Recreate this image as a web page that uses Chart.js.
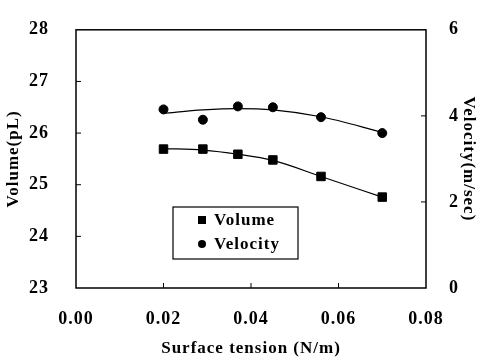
<!DOCTYPE html>
<html>
<head>
<meta charset="utf-8">
<script src="https://cdn.jsdelivr.net/npm/chart.js@4.4.1/dist/chart.umd.min.js"></script>
<style>
  html, body { margin: 0; padding: 0; background: #fff; }
  #wrap { width: 481px; height: 362px; }
</style>
</head>
<body>
<div id="wrap"><canvas id="chart" width="481" height="362"></canvas></div>
<script>
const tension = [0.020, 0.029, 0.037, 0.045, 0.056, 0.070];
const volume = [25.69, 25.69, 25.59, 25.48, 25.16, 24.76];
const velocity = [4.15, 3.91, 4.22, 4.20, 3.97, 3.60];
// trend lines
const volumeFit = [25.70, 25.67, 25.59, 25.47, 25.16, 24.76];
const velocityFit = [4.06, 4.14, 4.17, 4.14, 3.98, 3.62];

const xTicks = [0.00, 0.02, 0.04, 0.06, 0.08];
const volumeTicks = [23, 24, 25, 26, 27, 28];
const velocityTicks = [0, 2, 4, 6];

const serif = "'Liberation Serif', 'Times New Roman', serif";

function pairs(xs, ys) {
  return xs.map((x, i) => ({ x: x, y: ys[i] }));
}

// draws the box, the inward ticks and the legend
const framePlugin = {
  id: "frame",
  beforeLayout(chart) {
    chart.ctx.letterSpacing = "1px";
  },
  beforeDraw(chart) {
    chart.ctx.letterSpacing = "1px";
  },
  afterDraw(chart) {
    const ctx = chart.ctx;
    const ca = chart.chartArea;
    const sx = chart.scales.x;
    const yl = chart.scales.yVol;
    const yr = chart.scales.yVel;
    ctx.save();
    ctx.strokeStyle = "#000";
    ctx.lineWidth = 1.5;
    ctx.strokeRect(ca.left, ca.top, ca.right - ca.left, ca.bottom - ca.top);
    ctx.lineWidth = 1;
    ctx.beginPath();
    xTicks.slice(1, -1).forEach((v) => {
      const px = sx.getPixelForValue(v);
      ctx.moveTo(px, ca.bottom);
      ctx.lineTo(px, ca.bottom - 5);
    });
    volumeTicks.slice(1, -1).forEach((v) => {
      const py = yl.getPixelForValue(v);
      ctx.moveTo(ca.left, py);
      ctx.lineTo(ca.left + 5, py);
    });
    velocityTicks.slice(1, -1).forEach((v) => {
      const py = yr.getPixelForValue(v);
      ctx.moveTo(ca.right, py);
      ctx.lineTo(ca.right - 5, py);
    });
    ctx.stroke();

    // legend
    const lx = 173, ly = 207, lw = 125, lh = 52;
    ctx.lineWidth = 1.2;
    ctx.strokeRect(lx, ly, lw, lh);
    ctx.fillStyle = "#000";
    ctx.fillRect(198, 216, 8, 8);
    ctx.beginPath();
    ctx.arc(202, 244, 4, 0, Math.PI * 2);
    ctx.fill();
    ctx.font = "bold 17px " + serif;
    ctx.letterSpacing = "1px";
    ctx.textBaseline = "middle";
    ctx.textAlign = "left";
    ctx.fillText("Volume", 214, 221);
    ctx.fillText("Velocity", 214, 245);
    ctx.restore();
  },
};

new Chart(document.getElementById("chart"), {
  type: "scatter",
  data: {
    datasets: [
      {
        label: "Volume",
        data: pairs(tension, volume),
        yAxisID: "yVol",
        pointStyle: "rect",
        pointRadius: 6,
        backgroundColor: "#000",
        borderColor: "#000",
        showLine: false,
      },
      {
        label: "Velocity",
        data: pairs(tension, velocity),
        yAxisID: "yVel",
        pointStyle: "circle",
        pointRadius: 4.5,
        backgroundColor: "#000",
        borderColor: "#000",
        showLine: false,
      },
      {
        label: "Volume fit",
        data: pairs(tension, volumeFit),
        yAxisID: "yVol",
        pointRadius: 0,
        showLine: true,
        borderColor: "#000",
        borderWidth: 1.2,
        cubicInterpolationMode: "monotone",
      },
      {
        label: "Velocity fit",
        data: pairs(tension, velocityFit),
        yAxisID: "yVel",
        pointRadius: 0,
        showLine: true,
        borderColor: "#000",
        borderWidth: 1.2,
        cubicInterpolationMode: "monotone",
      },
    ],
  },
  options: {
    responsive: false,
    animation: false,
    devicePixelRatio: 1,
    layout: { padding: { top: 12, left: 0, right: 0, bottom: 0 } },
    plugins: {
      legend: { display: false },
      tooltip: { enabled: false },
    },
    scales: {
      x: {
        type: "linear",
        min: 0,
        max: 0.08,
        afterBuildTicks: (s) => { s.ticks = xTicks.map((v) => ({ value: v })); },
        afterFit: (s) => { s.height = 74; },
        grid: { display: false },
        border: { display: false },
        ticks: {
          color: "#000",
          padding: 13,
          maxRotation: 0,
          font: { family: serif, size: 18, weight: "bold" },
          callback: (v) => Number(v).toFixed(2),
        },
        title: {
          display: true,
          text: "Surface tension (N/m)",
          color: "#000",
          padding: { top: 8, bottom: 3 },
          font: { family: serif, size: 17, weight: "bold" },
        },
      },
      yVol: {
        position: "left",
        min: 23,
        max: 28,
        afterBuildTicks: (s) => { s.ticks = volumeTicks.map((v) => ({ value: v })); },
        afterFit: (s) => { s.width = 76; },
        grid: { display: false },
        border: { display: false },
        ticks: {
          color: "#000",
          padding: 19,
          font: { family: serif, size: 18, weight: "bold" },
        },
        title: {
          display: true,
          text: "Volume(pL)",
          color: "#000",
          padding: { top: 3, bottom: 0 },
          font: { family: serif, size: 17, weight: "bold" },
        },
      },
      yVel: {
        position: "right",
        min: 0,
        max: 6,
        afterBuildTicks: (s) => { s.ticks = velocityTicks.map((v) => ({ value: v })); },
        afterFit: (s) => { s.width = 55; },
        grid: { display: false },
        border: { display: false },
        ticks: {
          color: "#000",
          padding: 15,
          font: { family: serif, size: 18, weight: "bold" },
        },
        title: {
          display: true,
          text: "Velocity(m/sec)",
          color: "#000",
          padding: { top: 2, bottom: 0 },
          font: { family: serif, size: 17, weight: "bold" },
        },
      },
    },
  },
  plugins: [framePlugin],
});
</script>
</body>
</html>
